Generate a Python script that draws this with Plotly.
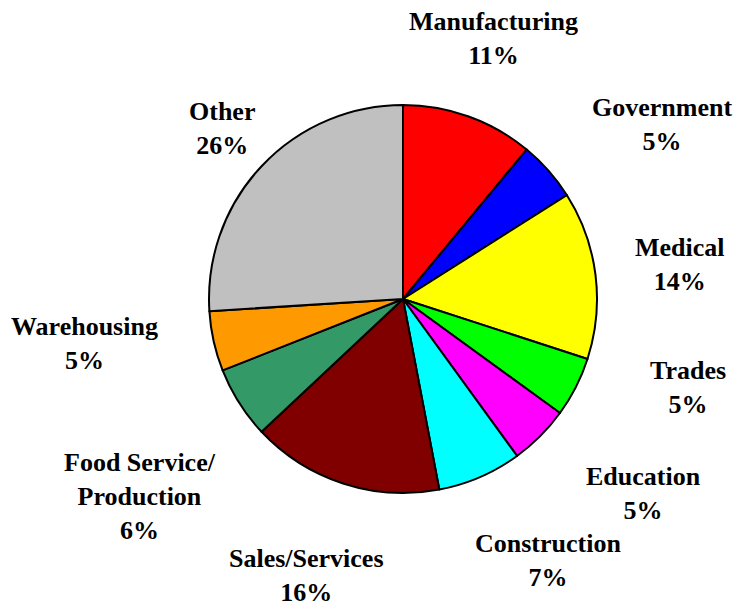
import plotly.graph_objects as go

categories = ["Manufacturing", "Government", "Medical", "Trades", "Education",
              "Construction", "Sales/Services", "Food Service/<br>Production",
              "Warehousing", "Other"]
values = [11, 5, 14, 5, 5, 7, 16, 6, 5, 26]
colors = ["#FF0000", "#0000FF", "#FFFF00", "#00FF00", "#FF00FF",
          "#00FFFF", "#800000", "#339966", "#FF9900", "#C0C0C0"]

# label centre positions in pixels (layout only)
label_px = [(493, 38), (662, 124), (680, 265), (688, 387), (643, 493),
            (548, 560), (306, 575), (140, 496), (84, 343), (222, 128)]

W, H = 735, 610
cx, cy, r = 403, 299, 194

fig = go.Figure(go.Pie(
    labels=categories,
    values=values,
    marker=dict(colors=colors, line=dict(color="black", width=2)),
    sort=False,
    direction="clockwise",
    rotation=0,
    textinfo="none",
    hoverinfo="label+percent",
    domain=dict(x=[(cx - r) / W, (cx + r) / W],
                y=[(H - cy - r) / H, (H - cy + r) / H]),
    showlegend=False,
))

total = sum(values)
for cat, v, (px, py) in zip(categories, values, label_px):
    pct = round(100 * v / total)
    fig.add_annotation(
        x=px / W, y=1 - py / H, xref="paper", yref="paper",
        text=f"<b>{cat}<br>{pct}%</b>",
        showarrow=False, xanchor="center", yanchor="middle", align="center",
        font=dict(family="Liberation Serif, Times New Roman, serif", size=26, color="black"),
    )

fig.update_layout(
    width=W, height=H,
    margin=dict(l=0, r=0, t=0, b=0),
    paper_bgcolor="white", plot_bgcolor="white",
)

fig.write_html("out.html",
               config={"displayModeBar": False},
               post_script="document.body.style.margin='0';document.body.style.overflow='hidden';")
